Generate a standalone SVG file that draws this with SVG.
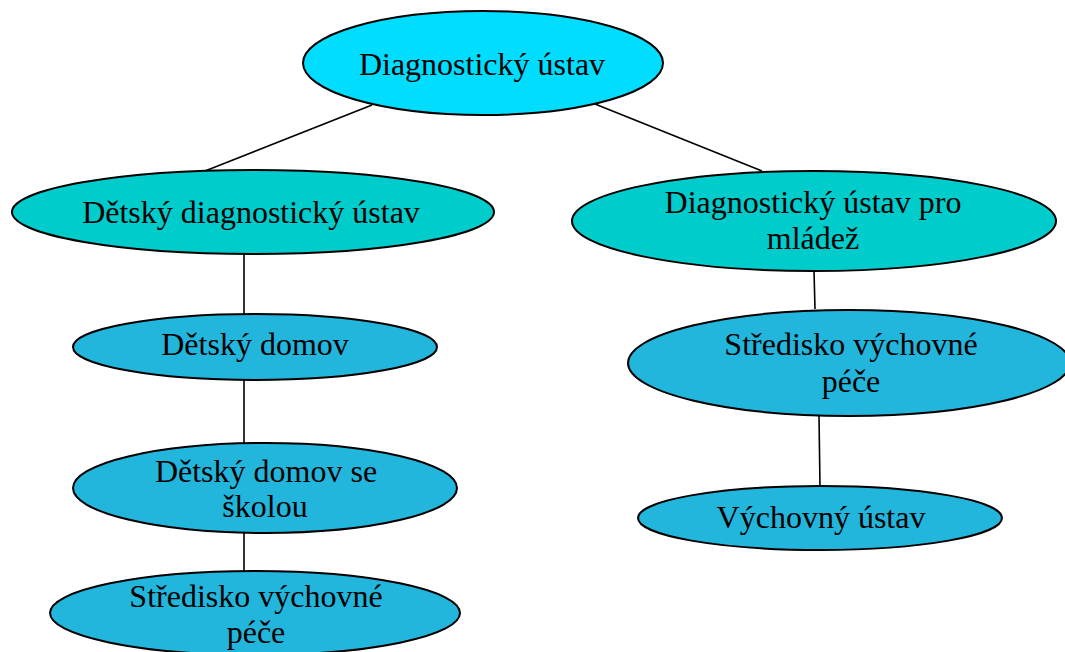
<svg xmlns="http://www.w3.org/2000/svg" width="1065" height="652" viewBox="0 0 1065 652">
<style>
.n{stroke:#000;stroke-width:2}
.c0{fill:#00DDFF}
.c1{fill:#00CCCC}
.c2{fill:#22B6DD}
text{font-family:"Liberation Serif","Times New Roman",serif;font-size:32px;fill:#000;text-anchor:middle}
.e{stroke:#000;stroke-width:1.6;fill:none}
</style>
<rect width="1065" height="652" fill="#fff"/>
<g id="connectors">
<line class="e" x1="372" y1="105" x2="205" y2="171"/>
<line class="e" x1="595" y1="104" x2="762" y2="171"/>
<line class="e" x1="244" y1="254" x2="244" y2="314"/>
<line class="e" x1="244" y1="380" x2="244" y2="443"/>
<line class="e" x1="244" y1="533" x2="244" y2="572"/>
<line class="e" x1="814" y1="271" x2="815" y2="309"/>
<line class="e" x1="819" y1="416" x2="820" y2="487"/>
</g>
<g id="n-root"><ellipse class="n c0" cx="483" cy="63" rx="180" ry="52"/><text x="482" y="75">Diagnostický ústav</text></g>
<g id="n-ddu"><ellipse class="n c1" cx="253" cy="212" rx="241" ry="42"/><text x="251" y="223">Dětský diagnostický ústav</text></g>
<g id="n-dum"><ellipse class="n c1" cx="814" cy="221" rx="242" ry="50"/><text x="813" y="213">Diagnostický ústav pro</text><text x="813" y="249">mládež</text></g>
<g id="n-dd"><ellipse class="n c2" cx="255" cy="347" rx="182" ry="33"/><text x="255" y="355">Dětský domov</text></g>
<g id="n-dds"><ellipse class="n c2" cx="265" cy="488" rx="192" ry="45"/><text x="266" y="482">Dětský domov se</text><text x="265" y="517">školou</text></g>
<g id="n-svp1"><ellipse class="n c2" cx="255" cy="613" rx="205" ry="42"/><text x="256" y="607">Středisko výchovné</text><text x="256" y="643">péče</text></g>
<g id="n-svp2"><ellipse class="n c2" cx="849" cy="363" rx="221" ry="53"/><text x="851" y="355">Středisko výchovné</text><text x="851" y="392">péče</text></g>
<g id="n-vu"><ellipse class="n c2" cx="820" cy="518" rx="182" ry="32"/><text x="821" y="528">Výchovný ústav</text></g>
</svg>
